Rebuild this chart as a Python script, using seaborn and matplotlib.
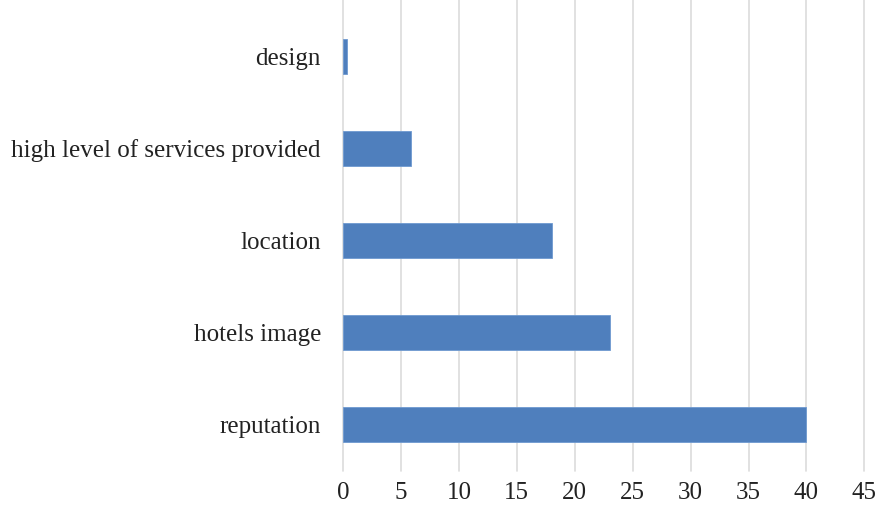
import matplotlib
matplotlib.use("Agg")
import matplotlib.pyplot as plt
import seaborn as sns
import pandas as pd

categories = ["design", "high level of services provided", "location", "hotels image", "reputation"]
values = [0.3, 5.85, 18.0, 23.0, 40.0]
xticks = [0, 5, 10, 15, 20, 25, 30, 35, 40, 45]

df = pd.DataFrame({"category": categories, "value": values})

sns.set_theme(style="white")
plt.rcParams['font.family'] = ['Liberation Serif', 'DejaVu Serif']

fig = plt.figure(figsize=(8.82, 5.13), dpi=100)
ax = fig.add_axes([0.389, 0.082, 0.591, 0.918])

sns.barplot(data=df, x="value", y="category", order=categories, color="#4f7fbd",
            width=0.38, saturation=1, ax=ax, zorder=3, edgecolor="#6f9ad0", linewidth=0.6)

ax.set_xlim(0, 45)
ax.set_ylim(4.5, -0.61)
ax.set_xticks(xticks)
ax.set_xticklabels([str(t) for t in xticks])
ax.grid(axis="x", color="#dcdcdc", linewidth=1.2, zorder=0)
ax.grid(axis="y", visible=False)
for gl in ax.get_xgridlines():
    gl.set_clip_on(False)
for s in ax.spines.values():
    s.set_visible(False)
ax.set_xlabel("")
ax.set_ylabel("")
ax.tick_params(axis="x", labelsize=18, pad=8, length=0, colors="#222222")
ax.tick_params(axis="y", labelsize=18, pad=16, length=0, colors="#222222")

fig.savefig("out.png", dpi=100)
